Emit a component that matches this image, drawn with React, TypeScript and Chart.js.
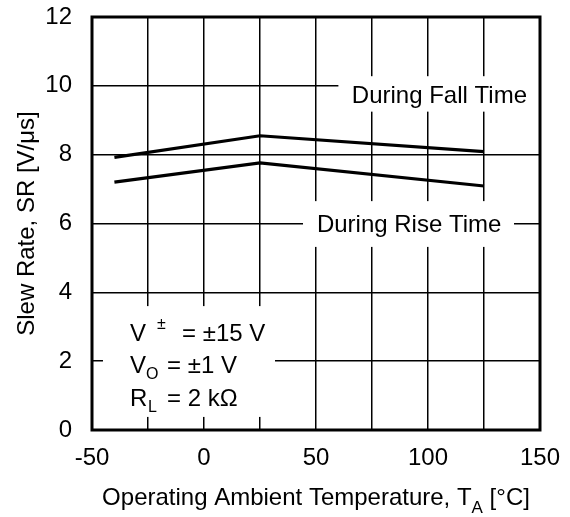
import React, { useEffect, useRef } from 'react';
import { Chart, registerables } from 'chart.js';

Chart.register(...registerables);

// ---- data ----
const temperatures = [-40, 25, 125];
const fallTimeSR = [7.92, 8.55, 8.09];
const riseTimeSR = [7.2, 7.76, 7.09];
const xLabelTicks = [-50, 0, 50, 100, 150];
const yLabelTicks = [0, 2, 4, 6, 8, 10, 12];

const FONT = "'Liberation Sans', Arial, Helvetica, sans-serif";

// annotation boxes in data units
const fallBox = { x0: 60, x1: 150, y0: 9.25, y1: 10.28, tx: 66, ty: 9.5, text: 'During Fall Time' };
const riseBox = { x0: 44.2, x1: 138.4, y0: 5.32, y1: 6.65, tx: 50.4, ty: 5.75, text: 'During Rise Time' };
const condBox = { x0: -45.1, x1: 31.7, y0: 0.38, y1: 3.6, tx: -33, lines: [2.59, 1.66, 0.7] };

const annotationPlugin = {
  id: 'annots',
  beforeDatasetsDraw(chart: any) {
    const { ctx, scales } = chart;
    const xs = scales.x, ys = scales.y;
    ctx.save();
    ctx.fillStyle = '#ffffff';
    for (const b of [fallBox, riseBox, condBox]) {
      const px0 = xs.getPixelForValue(b.x0);
      const px1 = xs.getPixelForValue(b.x1);
      const py0 = ys.getPixelForValue(b.y1);
      const py1 = ys.getPixelForValue(b.y0);
      ctx.fillRect(px0, py0, px1 - px0, py1 - py0);
    }
    ctx.restore();
  },
  afterDraw(chart: any) {
    const { ctx, scales, chartArea } = chart;
    const xs = scales.x, ys = scales.y;
    ctx.save();
    // frame
    ctx.strokeStyle = '#000';
    ctx.lineWidth = 3;
    ctx.strokeRect(chartArea.left, chartArea.top, chartArea.right - chartArea.left, chartArea.bottom - chartArea.top);

    ctx.fillStyle = '#000';
    ctx.textBaseline = 'alphabetic';
    ctx.textAlign = 'left';
    const main = `24px ${FONT}`;
    const small = `16px ${FONT}`;
    ctx.font = main;
    ctx.fillText(fallBox.text, xs.getPixelForValue(fallBox.tx), ys.getPixelForValue(fallBox.ty));
    ctx.fillText(riseBox.text, xs.getPixelForValue(riseBox.tx), ys.getPixelForValue(riseBox.ty));

    // conditions
    const cx = xs.getPixelForValue(condBox.tx);
    const [b1, b2, b3] = condBox.lines.map((v) => ys.getPixelForValue(v));
    ctx.font = main;
    ctx.fillText('V', cx, b1);
    ctx.font = small;
    ctx.fillText('±', cx + 27, b1 - 12);
    ctx.font = main;
    ctx.fillText('= ±15 V', cx + 52, b1);

    ctx.fillText('V', cx, b2);
    ctx.font = small;
    ctx.fillText('O', cx + 16, b2 + 6);
    ctx.font = main;
    ctx.fillText('= ±1 V', cx + 37, b2);

    ctx.fillText('R', cx, b3);
    ctx.font = small;
    ctx.fillText('L', cx + 18, b3 + 6);
    ctx.font = main;
    ctx.fillText('= 2 kΩ', cx + 37, b3);

    // x title
    const t1 = 'Operating Ambient Temperature, T';
    const t2 = 'A';
    const t3 = ' [°C]';
    ctx.font = main;
    const w1 = ctx.measureText(t1).width;
    const w3 = ctx.measureText(t3).width;
    ctx.font = `17px ${FONT}`;
    const w2 = ctx.measureText(t2).width;
    const total = w1 + w2 + w3;
    const cxm = (chartArea.left + chartArea.right) / 2;
    let x = cxm - total / 2;
    const base = 505;
    ctx.font = main;
    ctx.fillText(t1, x, base);
    x += w1;
    ctx.font = `17px ${FONT}`;
    ctx.fillText(t2, x, base + 8);
    x += w2;
    ctx.font = main;
    ctx.fillText(t3, x, base);

    // y title
    ctx.save();
    ctx.translate(27, (chartArea.top + chartArea.bottom) / 2);
    ctx.rotate(-Math.PI / 2);
    ctx.textAlign = 'center';
    ctx.textBaseline = 'middle';
    ctx.font = main;
    ctx.fillText('Slew Rate, SR [V/μs]', 0, 0);
    ctx.restore();

    ctx.restore();
  },
};

export default function App() {
  const ref = useRef<HTMLCanvasElement | null>(null);

  useEffect(() => {
    if (!ref.current) return;
    const chart = new Chart(ref.current, {
      type: 'scatter',
      data: {
        datasets: [
          {
            label: 'During Fall Time',
            data: temperatures.map((t, i) => ({ x: t, y: fallTimeSR[i] })),
            showLine: true,
            borderColor: '#000',
            borderWidth: 3.2,
            pointRadius: 0,
            tension: 0,
          },
          {
            label: 'During Rise Time',
            data: temperatures.map((t, i) => ({ x: t, y: riseTimeSR[i] })),
            showLine: true,
            borderColor: '#000',
            borderWidth: 3.2,
            pointRadius: 0,
            tension: 0,
          },
        ],
      },
      options: {
        responsive: false,
        animation: false,
        devicePixelRatio: 1,
        layout: { padding: { top: 17, right: 30, left: 0, bottom: 0 } },
        plugins: {
          legend: { display: false },
          tooltip: { enabled: false },
          title: { display: false },
        },
        scales: {
          x: {
            type: 'linear',
            min: -50,
            max: 150,
            afterFit(scale: any) {
              scale.height = 87;
              scale.paddingLeft = 0;
              scale.paddingRight = 0;
              scale.paddingTop = 0;
              scale.paddingBottom = 0;
            },
            ticks: {
              stepSize: 25,
              color: '#000',
              font: { family: FONT, size: 24 },
              padding: 14,
              maxRotation: 0,
              autoSkip: false,
              callback: (v: any) => (xLabelTicks.includes(Number(v)) ? String(v) : ''),
            },
            grid: { color: '#000', lineWidth: 1.5, drawTicks: false },
            border: { display: false },
          },
          y: {
            type: 'linear',
            min: 0,
            max: 12,
            afterFit(scale: any) {
              scale.width = 92;
              scale.paddingLeft = 0;
              scale.paddingRight = 0;
              scale.paddingTop = 0;
              scale.paddingBottom = 0;
            },
            ticks: {
              stepSize: 2,
              color: '#000',
              font: { family: FONT, size: 24 },
              padding: 20,
              autoSkip: false,
              callback: (v: any) => (yLabelTicks.includes(Number(v)) ? String(v) : ''),
            },
            grid: { color: '#000', lineWidth: 1.5, drawTicks: false },
            border: { display: false },
          },
        },
      },
      plugins: [annotationPlugin],
    });
    return () => chart.destroy();
  }, []);

  return (
    <div style={{ position: 'fixed', left: 0, top: 0, width: 570, height: 517, background: '#fff' }}>
      <canvas ref={ref} width={570} height={517} style={{ display: 'block', width: 570, height: 517 }} />
    </div>
  );
}
